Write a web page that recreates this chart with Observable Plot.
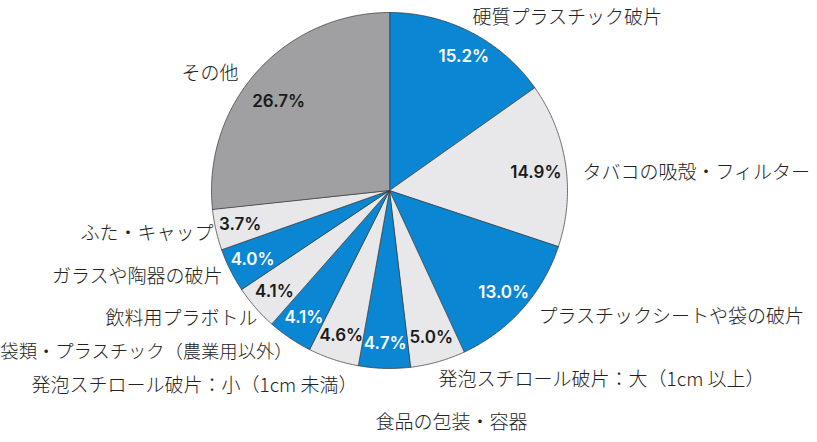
<!DOCTYPE html>
<html><head><meta charset="utf-8">
<script src="https://cdn.jsdelivr.net/npm/d3@7"></script>
<script src="https://cdn.jsdelivr.net/npm/@observablehq/plot@0.6"></script>
<style>body{margin:0;background:#fff}</style>
</head><body><div id="chart"></div>
<script>
// ---- data ----
const categories = [
  "硬質プラスチック破片",
  "タバコの吸殻・フィルター",
  "プラスチックシートや袋の破片",
  "発泡スチロール破片：大（1cm 以上）",
  "食品の包装・容器",
  "発泡スチロール破片：小（1cm 未満）",
  "袋類・プラスチック（農業用以外）",
  "飲料用プラボトル",
  "ガラスや陶器の破片",
  "ふた・キャップ",
  "その他"
];
const shares = [15.2, 14.9, 13.0, 5.0, 4.7, 4.6, 4.1, 4.1, 4.0, 3.7, 26.7];
const shareLabels = ["15.2%", "14.9%", "13.0%", "5.0%", "4.7%", "4.6%", "4.1%", "4.1%", "4.0%", "3.7%", "26.7%"];

// ---- style / layout ----
const BLUE = "#0a86d3", LIGHT = "#e8e8eb", GRAY = "#a0a0a2";
const sliceColors = [BLUE, LIGHT, BLUE, LIGHT, BLUE, LIGHT, BLUE, LIGHT, BLUE, LIGHT, GRAY];
const W = 817, H = 442, CX = 389, CY = 190, R = 178, VALUE_R = 0.86;
// category label anchors (pixels relative to the pie centre), label size, value-label nudge
const labelLayout = [
  {dx: 83, dy: -173, anchor: "start", size: 19, nx: 4, ny: 2},
  {dx: 193, dy: -18, anchor: "start", size: 19, nx: -5, ny: 5},
  {dx: 149, dy: 126, anchor: "start", size: 19, nx: 0, ny: 0},
  {dx: 49, dy: 189, anchor: "start", size: 19, nx: 0, ny: 0},
  {dx: -14, dy: 232, anchor: "start", size: 19, nx: 0, ny: 0},
  {dx: -32, dy: 195, anchor: "end", size: 19, nx: 0, ny: 0},
  {dx: -97, dy: 162, anchor: "end", size: 18.3, nx: 0, ny: 0},
  {dx: -132, dy: 128, anchor: "end", size: 19, nx: 0, ny: 0},
  {dx: -167, dy: 86, anchor: "end", size: 19, nx: 0, ny: 0},
  {dx: -176, dy: 43, anchor: "end", size: 19, nx: 0, ny: 0},
  {dx: -151, dy: -117, anchor: "end", size: 19, nx: 3, ny: 13}
];

const arcs = d3.pie().sort(null).value(d => d)(shares);
const polys = [];
const slices = arcs.map((a, i) => {
  const n = Math.max(2, Math.ceil((a.endAngle - a.startAngle) / (Math.PI / 360)));
  polys.push({key: categories[i], x: CX, y: CY});
  for (let k = 0; k <= n; ++k) {
    const t = a.startAngle + (a.endAngle - a.startAngle) * k / n;
    polys.push({key: categories[i], x: CX + R * Math.sin(t), y: CY - R * Math.cos(t)});
  }
  const mid = (a.startAngle + a.endAngle) / 2;
  const L = labelLayout[i];
  return {
    key: categories[i],
    label: shareLabels[i],
    onBlue: sliceColors[i] === BLUE,
    vx: CX + VALUE_R * R * Math.sin(mid) + L.nx,
    vy: CY - VALUE_R * R * Math.cos(mid) + L.ny,
    lx: CX + L.dx,
    ly: CY + L.dy,
    size: L.size,
    anchor: L.anchor
  };
});

const catText = (anchor) => Plot.text(slices.filter(d => d.anchor === anchor), {
  x: "lx", y: "ly", text: "key", textAnchor: anchor, lineAnchor: "middle",
  fontSize: "size", fontWeight: 300, fill: "#222", fontFamily: "Noto Sans CJK JP"
});
const valText = (onBlue) => Plot.text(slices.filter(d => d.onBlue === onBlue), {
  x: "vx", y: "vy", text: "label", textAnchor: "middle", lineAnchor: "middle",
  fontSize: 17, fontWeight: 600, fill: onBlue ? "white" : "#1a1a1a",
  fontFamily: "Inter, Liberation Sans, sans-serif"
});

const chart = Plot.plot({
  width: W, height: H,
  margin: 0,
  x: {domain: [0, W], range: [0, W], axis: null},
  y: {domain: [0, H], range: [0, H], axis: null},
  color: {domain: categories, range: sliceColors},
  style: {background: "white"},
  marks: [
    Plot.line(polys, {x: "x", y: "y", z: "key", fill: "key", stroke: "#333", strokeWidth: 0.7, curve: "linear-closed"}),
    valText(true),
    valText(false),
    catText("start"),
    catText("end")
  ]
});
document.getElementById("chart").appendChild(chart);
</script>
</body></html>
